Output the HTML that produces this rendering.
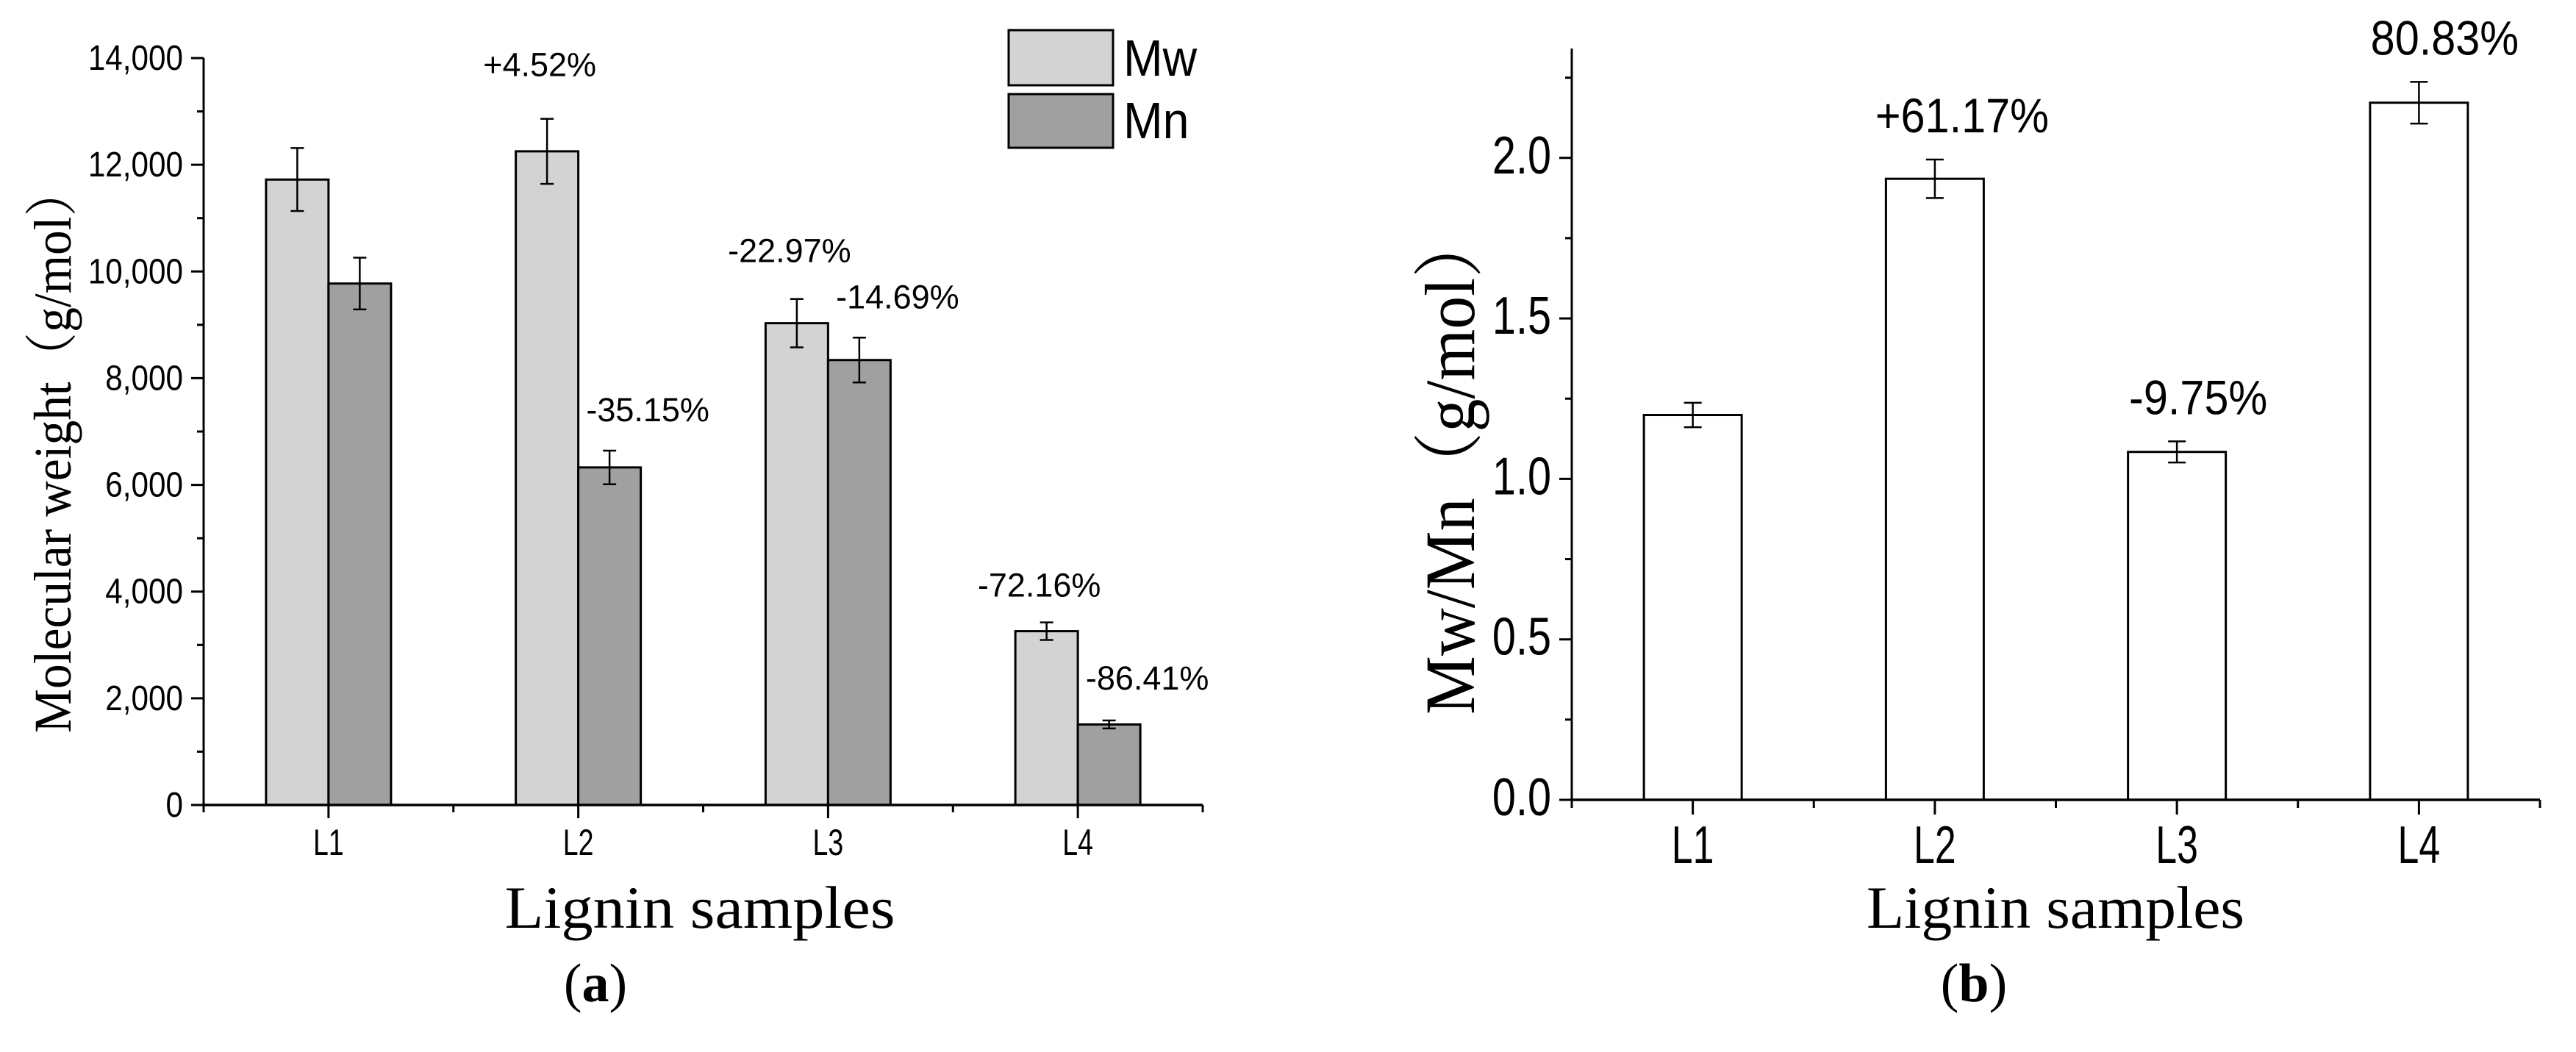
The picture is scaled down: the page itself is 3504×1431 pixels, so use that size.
<!DOCTYPE html>
<html><head><meta charset="utf-8"><style>html,body{margin:0;padding:0;background:#fff}svg{display:block}</style></head>
<body>
<svg id="chart" width="3504" height="1431" viewBox="0 0 3504 1431" xmlns="http://www.w3.org/2000/svg"></svg>
<script>
const categories = ["L1","L2","L3","L4"];
const mwValues = [11723, 12252, 9031, 3258];
const mwErrors = [590, 610, 453, 164];
const mnValues = [9774, 6327, 8340, 1509];
const mnErrors = [485, 315, 420, 75];
const mwLabels = ["", "+4.52%", "-22.97%", "-72.16%"];
const mnLabels = ["", "-35.15%", "-14.69%", "-86.41%"];
const leftTicks = [0, 2000, 4000, 6000, 8000, 10000, 12000, 14000];
const leftTickLabels = ["0","2,000","4,000","6,000","8,000","10,000","12,000","14,000"];
const ratioValues = [1.199, 1.935, 1.084, 2.172];
const ratioErrors = [0.038, 0.06, 0.033, 0.065];
const ratioLabels = ["", "+61.17%", "-9.75%", "80.83%"];
const rightTicks = [0, 0.5, 1.0, 1.5, 2.0];
const rightTickLabels = ["0.0","0.5","1.0","1.5","2.0"];

const NS = "http://www.w3.org/2000/svg";
const svg = document.getElementById("chart");
function el(tag, attrs, parent) {
  const e = document.createElementNS(NS, tag);
  for (const k in attrs) e.setAttribute(k, attrs[k]);
  (parent || svg).appendChild(e);
  return e;
}
function txt(x, y, s, size, anchor, sx, fam, parent) {
  const g = el("g", {transform: `translate(${x},${y}) scale(${sx},1)`}, parent);
  const t = el("text", {x: 0, y: 0, "font-size": size, "text-anchor": anchor, "font-family": fam || '"Liberation Sans", sans-serif', fill: "#000"}, g);
  t.textContent = s;
  return t;
}
function line(x1, y1, x2, y2, w, parent) {
  return el("line", {x1, y1, x2, y2, stroke: "#000", "stroke-width": w || 3}, parent);
}

/* ---------- Left chart ---------- */
const L = {x0: 277, x1: 1636, y0: 1095, yTop: 79, max: 14000};
const ly = v => L.y0 - (v / L.max) * (L.y0 - L.yTop);
const lband = (L.x1 - L.x0) / categories.length;
const lcx = i => L.x0 + lband * (i + 0.5);
const gA = el("g", {});


const barW = 85;
categories.forEach((c, i) => {
  const cx = lcx(i);
  [[mwValues, mwErrors, "#d3d3d3", -1, "mw"], [mnValues, mnErrors, "#a0a0a0", 0, "mn"]].forEach(([vals, errs, fill, off, nm]) => {
    const x = cx + off * barW;
    const r = el("rect", {x, y: ly(vals[i]), width: barW, height: L.y0 - ly(vals[i]), fill, stroke: "#000", "stroke-width": 3}, gA);
    
    
    const ex = x + barW / 2;
    const eg = el("g", {}, gA);
    
    
    line(ex, ly(vals[i] + errs[i]), ex, ly(vals[i] - errs[i]), 2.5, eg);
    line(ex - 9, ly(vals[i] + errs[i]), ex + 9, ly(vals[i] + errs[i]), 2.5, eg);
    line(ex - 9, ly(vals[i] - errs[i]), ex + 9, ly(vals[i] - errs[i]), 2.5, eg);
  });
  const lb = txt(cx, 1163, c, 50, "middle", 0.75, null, gA);
  
  
  line(cx, L.y0, cx, L.y0 + 18, 3, gA);
  line(L.x0 + lband * (i + 1), L.y0, L.x0 + lband * (i + 1), L.y0 + 10, 3, gA);
});
categories.forEach((c, i) => {
  if (mwLabels[i]) {
    const a = txt(lcx(i) - barW * 0.5 - 10, ly(mwValues[i] + mwErrors[i]) - (i === 1 ? 58 : i === 2 ? 50 : 35), mwLabels[i], 45, "middle", 1, null, gA);
    
    
  }
  if (mnLabels[i]) {
    const a = txt(lcx(i) + barW * 0.5 + 52, ly(mnValues[i] + mnErrors[i]) - (i === 1 ? 40 : i === 2 ? 40 : 42), mnLabels[i], 45, "middle", 1, null, gA);
    
    
  }
});
const axA = el("g", {}, gA);


line(L.x0, L.yTop, L.x0, L.y0 + 10, 3, axA);
line(L.x0 - 2, L.y0, L.x1, L.y0, 3.5, gA);
line(L.x0, L.y0, L.x0, L.y0 + 10, 3, gA);
leftTicks.forEach((v, i) => {
  line(L.x0 - 17, ly(v), L.x0, ly(v), 3, axA);
  if (i < leftTicks.length - 1) line(L.x0 - 9, ly(v + 1000), L.x0, ly(v + 1000), 3, axA);
  const t = txt(L.x0 - 28, ly(v) + 16, leftTickLabels[i], 48, "end", 0.88, null, axA);
  
  
});
const leg = el("g", {}, gA);


el("rect", {x: 1372, y: 41, width: 142, height: 75, fill: "#d3d3d3", stroke: "#000", "stroke-width": 3}, leg);
el("rect", {x: 1372, y: 128, width: 142, height: 73, fill: "#a0a0a0", stroke: "#000", "stroke-width": 3}, leg);
txt(1528, 103, "Mw", 70, "start", 0.92, null, leg);
txt(1528, 188, "Mn", 70, "start", 0.92, null, leg);
const yt = el("text", {x: 0, y: 0, "font-size": 72, "font-family": '"Liberation Serif", "Noto Serif CJK SC", serif', "text-anchor": "middle", transform: "translate(96,612) rotate(-90)", textLength: 770, lengthAdjust: "spacingAndGlyphs"}, gA);
yt.textContent = "Molecular weight（g/mol）";


const xt = el("text", {x: 952, y: 1262, "font-size": 82, "font-family": '"Liberation Serif", serif', "text-anchor": "middle", textLength: 531, lengthAdjust: "spacingAndGlyphs"}, gA);
xt.textContent = "Lignin samples";


const pa = el("text", {x: 810, y: 1362, "font-size": 74, "font-family": '"Liberation Serif", serif', "text-anchor": "middle"}, gA);
pa.innerHTML = '(<tspan font-weight="bold">a</tspan>)';



/* ---------- Right chart ---------- */
const R = {x0: 2138, x1: 3455, y0: 1088, yTop: 66, unit: 436.6};
const ry = v => R.y0 - v * R.unit;
const rband = (R.x1 - R.x0) / categories.length;
const rcx = i => R.x0 + rband * (i + 0.5);
const gB = el("g", {});


const rW = 133;
categories.forEach((c, i) => {
  const cx = rcx(i);
  const r = el("rect", {x: cx - rW / 2, y: ry(ratioValues[i]), width: rW, height: R.y0 - ry(ratioValues[i]), fill: "#fff", stroke: "#000", "stroke-width": 3}, gB);
  
  
  const eg = el("g", {}, gB);
  
  
  const hi = ry(ratioValues[i] + ratioErrors[i]), lo = ry(ratioValues[i] - ratioErrors[i]);
  line(cx, hi, cx, lo, 2.5, eg);
  line(cx - 12, hi, cx + 12, hi, 2.5, eg);
  line(cx - 12, lo, cx + 12, lo, 2.5, eg);
  const lb = txt(cx, 1174, c, 72, "middle", 0.72, null, gB);
  
  
  line(cx, R.y0, cx, R.y0 + 20, 3, gB);
  line(R.x0 + rband * (i + 1), R.y0, R.x0 + rband * (i + 1), R.y0 + 11, 3, gB);
  if (ratioLabels[i]) {
    const a = txt(cx + (i === 1 ? 37 : i === 2 ? 29 : 35), hi - 37, ratioLabels[i], 66, "middle", 0.9, null, gB);
    
    
  }
});
const axB = el("g", {}, gB);


line(R.x0, R.yTop, R.x0, R.y0 + 11, 3, axB);
line(R.x0 - 2, R.y0, R.x1, R.y0, 3.5, gB);
rightTicks.forEach((v, i) => {
  line(R.x0 - 17, ry(v), R.x0, ry(v), 3, axB);
  line(R.x0 - 9, ry(v + 0.25), R.x0, ry(v + 0.25), 3, axB);
  const t = txt(R.x0 - 28, ry(v) + 21, rightTickLabels[i], 72, "end", 0.8, null, axB);
  
  
});
const yt2 = el("text", {x: 0, y: 0, "font-size": 96, "font-family": '"Liberation Serif", "Noto Serif CJK SC", serif', "text-anchor": "middle", transform: "translate(2005,630) rotate(-90)", textLength: 684, lengthAdjust: "spacingAndGlyphs"}, gB);
yt2.textContent = "Mw/Mn（g/mol）";


const xt2 = el("text", {x: 2796, y: 1262, "font-size": 82, "font-family": '"Liberation Serif", serif', "text-anchor": "middle", textLength: 514, lengthAdjust: "spacingAndGlyphs"}, gB);
xt2.textContent = "Lignin samples";


const pb = el("text", {x: 2685, y: 1362, "font-size": 74, "font-family": '"Liberation Serif", serif', "text-anchor": "middle"}, gB);
pb.innerHTML = '(<tspan font-weight="bold">b</tspan>)';


</script>
</body></html>
